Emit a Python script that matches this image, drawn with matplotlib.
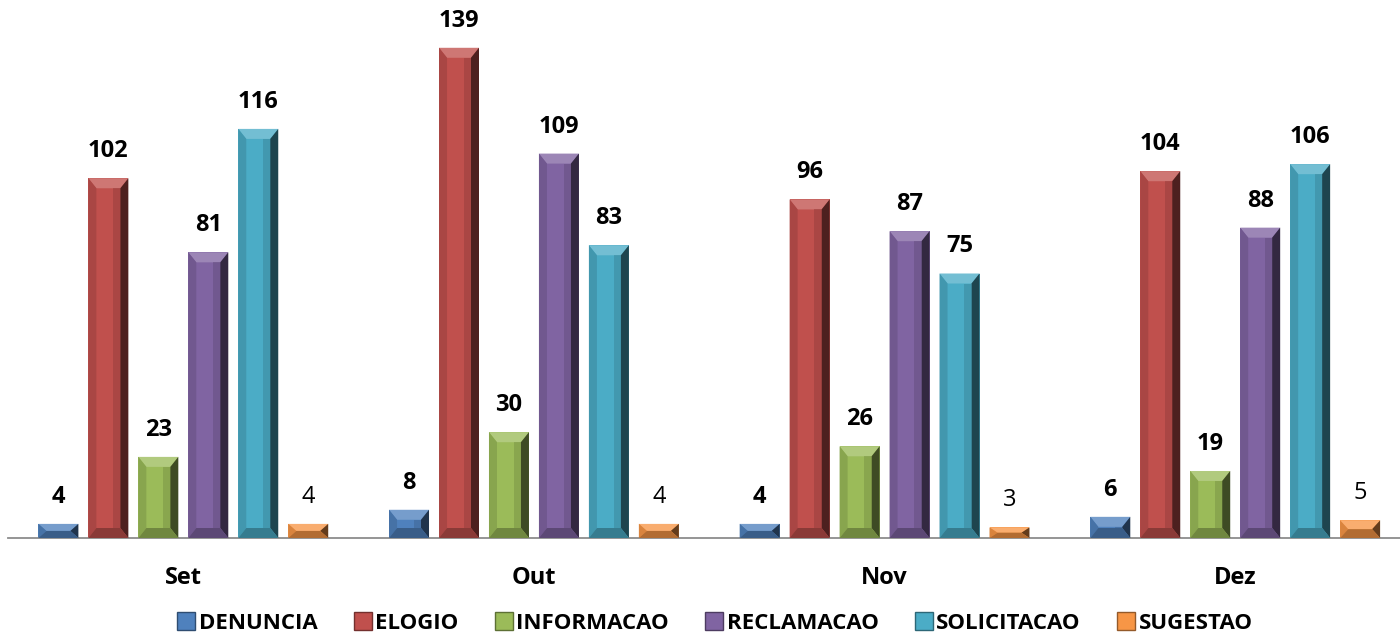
import matplotlib
matplotlib.use("Agg")
import matplotlib.pyplot as plt
from matplotlib.patches import Polygon
from matplotlib.lines import Line2D
import matplotlib.colors as mcolors
import numpy as np

plt.rcParams['font.family'] = ['Open Sans', 'DejaVu Sans']

months = ['Set', 'Out', 'Nov', 'Dez']
series = ['DENUNCIA', 'ELOGIO', 'INFORMACAO', 'RECLAMACAO', 'SOLICITACAO', 'SUGESTAO']
denuncia = [4, 8, 4, 6]
elogio = [102, 139, 96, 104]
informacao = [23, 30, 26, 19]
reclamacao = [81, 109, 87, 88]
solicitacao = [116, 83, 75, 106]
sugestao = [4, 4, 3, 5]
values = [denuncia, elogio, informacao, reclamacao, solicitacao, sugestao]
colors = ['#4F81BD', '#C0504D', '#9BBB59', '#8064A2', '#4BACC6', '#F79646']


def shade(c, f):
    r, g, b = mcolors.to_rgb(c)
    if f >= 1:
        return (r + (1 - r) * (f - 1), g + (1 - g) * (f - 1), b + (1 - b) * (f - 1))
    return (r * f, g * f, b * f)


fig = plt.figure(figsize=(14, 6.35), dpi=100)
ax = fig.add_axes([8 / 1400, 97 / 635, 1392 / 1400, 529 / 635])
ax.set_xlim(-0.5, 3.47)
ax.set_ylim(0, 150)

x = np.arange(len(months))
pitch = 0.1425
width = 0.114

# bevel size in data units (px -> data)
bx = 8 * (ax.get_xlim()[1] - ax.get_xlim()[0]) / 1392
by = 10 * 150 / 529

for i, (name, vals, col) in enumerate(zip(series, values, colors)):
    pos = x + (i - 2.5) * pitch
    bars = ax.bar(pos, vals, width, color=col, edgecolor='none', zorder=2)
    for b, v in zip(bars, vals):
        x0, w, h = b.get_x(), b.get_width(), b.get_height()
        vy = min(by, h / 2)
        # top facet
        ax.add_patch(Polygon([(x0, h), (x0 + w, h), (x0 + w - bx, h - vy), (x0 + bx, h - vy)],
                             closed=True, facecolor=shade(col, 1.22), edgecolor='none', zorder=3))
        # right facet
        ax.add_patch(Polygon([(x0 + w, h), (x0 + w, 0), (x0 + w - bx, vy), (x0 + w - bx, h - vy)],
                             closed=True, facecolor=shade(col, 0.4), edgecolor='none', zorder=3))
        # left facet
        ax.add_patch(Polygon([(x0, h), (x0, 0), (x0 + bx, vy), (x0 + bx, h - vy)],
                             closed=True, facecolor=shade(col, 0.88), edgecolor='none', zorder=3))
        # bottom facet
        ax.add_patch(Polygon([(x0, 0), (x0 + w, 0), (x0 + w - bx, vy), (x0 + bx, vy)],
                             closed=True, facecolor=shade(col, 0.72), edgecolor='none', zorder=3))
        # soft shade on right part of face
        ax.add_patch(Polygon([(x0 + w * 0.62, h - vy), (x0 + w - bx, h - vy), (x0 + w - bx, vy), (x0 + w * 0.62, vy)],
                             closed=True, facecolor=shade(col, 0.78), edgecolor='none', alpha=0.5, zorder=3))
        ax.annotate(str(v), (b.get_x() + w / 2, h), xytext=(0, 19.5), textcoords='offset points',
                    ha='center', va='center', fontsize=17,
                    fontweight='normal' if name == 'SUGESTAO' else 'bold', color='black')

ax.set_xticks(x)
ax.set_xticklabels(months, fontsize=17, fontweight='bold')
ax.tick_params(axis='x', length=0, pad=20)
ax.set_yticks([])
for s in ['top', 'right', 'left']:
    ax.spines[s].set_visible(False)
ax.spines['bottom'].set_color('#8c8c8c')
ax.spines['bottom'].set_linewidth(1.3)

handles = [Line2D([], [], marker='s', linestyle='none', markersize=13,
                  markerfacecolor=c, markeredgecolor=shade(c, 0.6)) for c in colors]
fig.legend(handles, series, loc='lower center', bbox_to_anchor=(0.51, -0.03), ncol=6,
           frameon=False, prop={'size': 16, 'weight': 'bold'}, handletextpad=0.05,
           columnspacing=1.55, handlelength=1.0)

fig.savefig('out.png', dpi=100)
